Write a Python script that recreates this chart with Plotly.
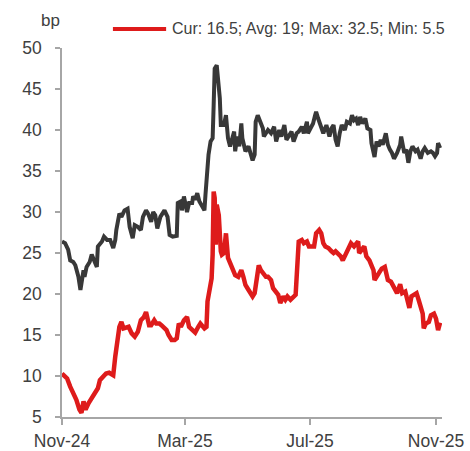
import plotly.graph_objects as go

# Spread series (bp): dark line and red line, Nov-24 to Nov-25
dates_dark = [
    "2024-11-01", "2024-11-04", "2024-11-07", "2024-11-09", "2024-11-12", "2024-11-14",
    "2024-11-17", "2024-11-19", "2024-11-22", "2024-11-23", "2024-11-25", "2024-11-28",
    "2024-11-30", "2024-12-03", "2024-12-05", "2024-12-06", "2024-12-10", "2024-12-12",
    "2024-12-15", "2024-12-18", "2024-12-21", "2024-12-23", "2024-12-24", "2024-12-27",
    "2024-12-29", "2025-01-01", "2025-01-04", "2025-01-06", "2025-01-09", "2025-01-11",
    "2025-01-14", "2025-01-17", "2025-01-19", "2025-01-22", "2025-01-24", "2025-01-27",
    "2025-01-29", "2025-01-31", "2025-02-02", "2025-02-05", "2025-02-07", "2025-02-09",
    "2025-02-12", "2025-02-14", "2025-02-17", "2025-02-21", "2025-02-22", "2025-02-25",
    "2025-02-26", "2025-02-28", "2025-03-03", "2025-03-05", "2025-03-08", "2025-03-09",
    "2025-03-11", "2025-03-13", "2025-03-15", "2025-03-18", "2025-03-20", "2025-03-21",
    "2025-03-22", "2025-03-23", "2025-03-24", "2025-03-26", "2025-03-28", "2025-03-29",
    "2025-03-30", "2025-04-01", "2025-04-02", "2025-04-04", "2025-04-05", "2025-04-08",
    "2025-04-10", "2025-04-12", "2025-04-14", "2025-04-16", "2025-04-18", "2025-04-19",
    "2025-04-21", "2025-04-23", "2025-04-25", "2025-04-26", "2025-04-29", "2025-05-02",
    "2025-05-04", "2025-05-06", "2025-05-08", "2025-05-09", "2025-05-11", "2025-05-13",
    "2025-05-16", "2025-05-17", "2025-05-21", "2025-05-24", "2025-05-27", "2025-05-29",
    "2025-06-01", "2025-06-03", "2025-06-06", "2025-06-08", "2025-06-10", "2025-06-13",
    "2025-06-15", "2025-06-18", "2025-06-20", "2025-06-23", "2025-06-25", "2025-06-28",
    "2025-06-29", "2025-07-02", "2025-07-04", "2025-07-06", "2025-07-07", "2025-07-09",
    "2025-07-12", "2025-07-14", "2025-07-17", "2025-07-20", "2025-07-22", "2025-07-24",
    "2025-07-26", "2025-07-28", "2025-07-30", "2025-08-01", "2025-08-04", "2025-08-06",
    "2025-08-09", "2025-08-11", "2025-08-13", "2025-08-15", "2025-08-17", "2025-08-19",
    "2025-08-21", "2025-08-23", "2025-08-24", "2025-08-26", "2025-08-29", "2025-08-30",
    "2025-09-02", "2025-09-04", "2025-09-06", "2025-09-08", "2025-09-10", "2025-09-13",
    "2025-09-15", "2025-09-17", "2025-09-19", "2025-09-21", "2025-09-24", "2025-09-27",
    "2025-09-28", "2025-10-01", "2025-10-03", "2025-10-05", "2025-10-07", "2025-10-09",
    "2025-10-12", "2025-10-14", "2025-10-17", "2025-10-19", "2025-10-21", "2025-10-24",
    "2025-10-27", "2025-10-29", "2025-10-31", "2025-11-02", "2025-11-03", "2025-11-05",
]
values_dark = [
    26.4, 26.2, 25.4, 24.1, 23.9, 23.5,
    22.1, 20.5, 22.9, 22.1, 23.3, 23.9,
    24.8, 23.7, 23.3, 25.8, 26.4, 27.0,
    26.6, 26.6, 25.6, 26.6, 27.8, 29.8,
    29.4, 30.2, 30.4, 28.2, 26.8, 28.4,
    28.2, 27.8, 29.4, 30.2, 29.8, 28.8,
    30.0, 29.6, 28.0, 29.4, 29.8, 30.2,
    29.4, 27.2, 27.0, 27.1, 31.1, 31.3,
    30.2, 31.9, 30.0, 31.1, 31.1, 31.9,
    31.5, 32.3, 31.3, 30.5, 30.2, 32.1,
    33.9, 36.5, 37.0, 38.6, 39.0, 43.0,
    47.5, 47.9, 46.3, 43.9, 40.6, 40.6,
    41.8, 39.0, 38.0, 39.0, 39.8, 37.4,
    39.2, 38.0, 40.8, 39.0, 37.4, 38.0,
    37.0, 36.3, 37.0, 41.0, 41.8, 41.2,
    40.2, 39.2, 40.0, 39.6, 40.4, 38.6,
    40.0, 39.2, 40.6, 38.8, 39.2, 39.8,
    38.6, 39.6, 39.8, 40.4, 39.6, 41.0,
    39.6, 40.4, 40.8, 41.8, 42.2, 41.4,
    40.4, 39.6, 40.6, 39.2, 40.2, 40.6,
    38.8, 38.0, 39.6, 40.6, 40.0, 41.0,
    40.8, 41.8, 41.2, 41.4, 40.6, 41.6,
    40.8, 41.2, 41.4, 40.2, 40.0, 38.4,
    36.7, 38.6, 38.0, 38.8, 38.2, 39.6,
    38.2, 37.6, 37.2, 36.5, 37.2, 38.2,
    39.2, 37.2, 37.6, 36.0, 37.4, 38.0,
    37.4, 37.6, 36.5, 37.4, 37.8, 37.2,
    37.4, 37.2, 36.8, 37.2, 38.4, 37.8,
]

dates_red = [
    "2024-11-01", "2024-11-04", "2024-11-06", "2024-11-09", "2024-11-12", "2024-11-15",
    "2024-11-18", "2024-11-20", "2024-11-22", "2024-11-24", "2024-11-27", "2024-11-30",
    "2024-12-03", "2024-12-06", "2024-12-08", "2024-12-11", "2024-12-14", "2024-12-17",
    "2024-12-21", "2024-12-23", "2024-12-25", "2024-12-27", "2024-12-29", "2024-12-31",
    "2025-01-05", "2025-01-08", "2025-01-11", "2025-01-14", "2025-01-17", "2025-01-20",
    "2025-01-22", "2025-01-25", "2025-01-27", "2025-01-30", "2025-02-01", "2025-02-04",
    "2025-02-06", "2025-02-09", "2025-02-11", "2025-02-13", "2025-02-16", "2025-02-19",
    "2025-02-21", "2025-02-23", "2025-02-25", "2025-02-28", "2025-03-03", "2025-03-05",
    "2025-03-08", "2025-03-11", "2025-03-14", "2025-03-16", "2025-03-20", "2025-03-22",
    "2025-03-23", "2025-03-25", "2025-03-27", "2025-03-28", "2025-03-29", "2025-03-30",
    "2025-03-31", "2025-04-01", "2025-04-03", "2025-04-05", "2025-04-06", "2025-04-08",
    "2025-04-10", "2025-04-12", "2025-04-15", "2025-04-17", "2025-04-19", "2025-04-22",
    "2025-04-25", "2025-04-27", "2025-04-29", "2025-05-01", "2025-05-04", "2025-05-06",
    "2025-05-08", "2025-05-10", "2025-05-12", "2025-05-14", "2025-05-16", "2025-05-19",
    "2025-05-21", "2025-05-24", "2025-05-26", "2025-05-28", "2025-05-31", "2025-06-02",
    "2025-06-05", "2025-06-07", "2025-06-09", "2025-06-12", "2025-06-14", "2025-06-17",
    "2025-06-18", "2025-06-20", "2025-06-23", "2025-06-25", "2025-06-28", "2025-06-30",
    "2025-07-03", "2025-07-05", "2025-07-07", "2025-07-10", "2025-07-12", "2025-07-14",
    "2025-07-16", "2025-07-19", "2025-07-22", "2025-07-24", "2025-07-26", "2025-07-29",
    "2025-07-31", "2025-08-02", "2025-08-05", "2025-08-08", "2025-08-10", "2025-08-13",
    "2025-08-15", "2025-08-17", "2025-08-18", "2025-08-21", "2025-08-23", "2025-08-25",
    "2025-08-28", "2025-08-30", "2025-09-01", "2025-09-02", "2025-09-05", "2025-09-07",
    "2025-09-09", "2025-09-12", "2025-09-13", "2025-09-15", "2025-09-18", "2025-09-20",
    "2025-09-22", "2025-09-24", "2025-09-27", "2025-09-29", "2025-10-02", "2025-10-04",
    "2025-10-06", "2025-10-08", "2025-10-10", "2025-10-13", "2025-10-15", "2025-10-17",
    "2025-10-19", "2025-10-20", "2025-10-22", "2025-10-25", "2025-10-27", "2025-10-30",
    "2025-11-01", "2025-11-03", "2025-11-05",
]
values_red = [
    10.3, 9.9, 9.7, 8.7, 7.9, 7.1,
    5.9, 5.5, 6.9, 5.9, 6.7, 7.3,
    7.9, 8.5, 9.5, 9.9, 10.3, 10.4,
    10.1, 12.4, 14.4, 16.0, 16.6, 15.8,
    16.0, 15.2, 14.8, 15.4, 16.8, 17.2,
    17.8, 16.2, 16.2, 16.8, 16.4, 16.4,
    16.2, 15.8, 15.6, 15.0, 14.4, 14.4,
    14.6, 16.4, 16.0, 16.8, 17.2, 16.0,
    15.6, 15.3, 16.0, 16.4, 15.8, 16.0,
    19.1, 20.3, 21.9, 24.8, 32.5, 31.7,
    26.0, 30.9, 29.6, 25.2, 24.8, 25.0,
    27.4, 24.4, 23.5, 23.1, 22.3, 22.1,
    22.9, 22.1, 21.1, 20.7, 20.1, 19.7,
    20.1, 22.1, 23.5, 22.9, 22.5, 22.1,
    22.1, 21.7, 20.7, 20.3, 19.9, 18.9,
    19.7, 19.3, 19.7, 19.3, 19.5, 19.9,
    22.1, 26.4, 26.6, 26.2, 26.4, 25.8,
    25.8, 25.8, 27.4, 27.8, 27.4, 26.2,
    25.8, 25.6, 25.2, 25.0, 25.2, 24.8,
    24.6, 24.1, 25.0, 25.6, 26.2, 25.8,
    26.2, 26.4, 25.0, 25.4, 25.8, 24.6,
    24.1, 23.5, 22.9, 21.7, 22.3, 22.5,
    23.1, 23.3, 22.5, 21.7, 21.5, 21.1,
    20.6, 20.1, 21.2, 20.1, 20.3, 19.5,
    18.3, 19.7, 19.9, 20.1, 19.3, 18.5,
    17.6, 15.8, 16.4, 16.6, 17.4, 17.6,
    17.0, 15.6, 16.5,
]

red_label = "Cur: 16.5; Avg: 19; Max: 32.5; Min: 5.5"
x_tick_dates = ["2024-11-01", "2025-03-01", "2025-07-01", "2025-11-01"]
x_tick_labels = ["Nov-24", "Mar-25", "Jul-25", "Nov-25"]
y_ticks = [5, 10, 15, 20, 25, 30, 35, 40, 45, 50]

DARK = "#383838"
RED = "#de1b1b"
AXIS = "#a6a6a6"
TEXT = "#404040"
FONT = "Liberation Sans, Arial, sans-serif"

fig = go.Figure()
fig.add_trace(go.Scatter(
    x=dates_dark, y=values_dark, mode="lines",
    line=dict(color=DARK, width=4), showlegend=False,
))
fig.add_trace(go.Scatter(
    x=dates_red, y=values_red, mode="lines",
    line=dict(color=RED, width=4.5), name=red_label, showlegend=False,
))

# Legend entry: a red swatch line and its label above the plot
fig.add_shape(type="line", xref="paper", yref="paper",
              x0=0.134, x1=0.274, y0=1.0515, y1=1.0515,
              line=dict(color=RED, width=4))
fig.add_annotation(text=red_label, xref="paper", yref="paper",
                   x=0.285, y=1.0515, xanchor="left", yanchor="middle",
                   showarrow=False, font=dict(size=16, color=TEXT, family=FONT))

# Unit label over the y axis
fig.add_annotation(text="bp", xref="paper", yref="paper",
                   x=0, y=1, xanchor="right", yanchor="middle", yshift=28,
                   showarrow=False, font=dict(size=17, color=TEXT, family=FONT))

fig.update_layout(
    width=470, height=451,
    margin=dict(l=62, r=28, t=48, b=34),
    paper_bgcolor="white", plot_bgcolor="white",
    font=dict(family=FONT, size=17, color=TEXT),
    showlegend=False,
)
fig.update_xaxes(
    type="date", range=["2024-11-01", "2025-11-06 20:00"],
    tickmode="array", tickvals=x_tick_dates, ticktext=x_tick_labels,
    showgrid=False, zeroline=False, automargin=False,
    showline=True, linecolor=AXIS, linewidth=1.5,
    ticks="outside", ticklen=6, tickcolor=AXIS, tickwidth=1.5,
    ticklabelstandoff=1,
    tickfont=dict(size=17.5, color=TEXT, family=FONT),
)
fig.update_yaxes(
    range=[5, 50], tickmode="array", tickvals=y_ticks,
    showgrid=False, zeroline=False, automargin=False,
    showline=True, linecolor=AXIS, linewidth=1.5,
    ticks="outside", ticklen=5, tickcolor=AXIS, tickwidth=1.5,
    ticklabelstandoff=10,
    tickfont=dict(size=17.5, color=TEXT, family=FONT),
)

fig.write_html("out.html")
